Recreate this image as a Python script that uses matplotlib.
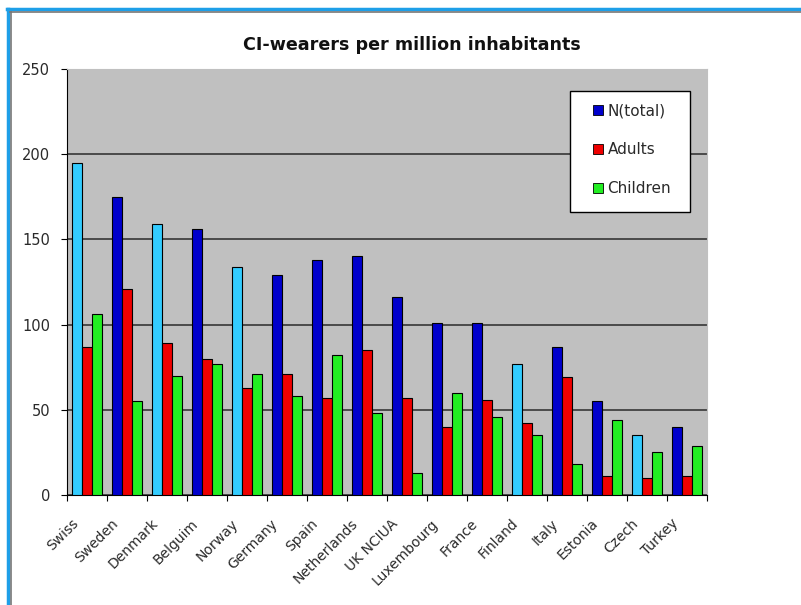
import numpy as np
import matplotlib.pyplot as plt
import matplotlib.transforms as mtransforms
from matplotlib.patches import Patch, Rectangle
from matplotlib.lines import Line2D

countries = ["Swiss", "Sweden", "Denmark", "Belguim", "Norway", "Germany", "Spain",
             "Netherlands", "UK NCIUA", "Luxembourg", "France", "Finland", "Italy",
             "Estonia", "Czech", "Turkey"]
total = [195, 175, 159, 156, 134, 129, 138, 140, 116, 101, 101, 77, 87, 55, 35, 40]
adults = [87, 121, 89, 80, 63, 71, 57, 85, 57, 40, 56, 42, 69, 11, 10, 11]
children = [106, 55, 70, 77, 71, 58, 82, 48, 13, 60, 46, 35, 18, 44, 25, 29]
# countries whose total bar is drawn light blue
light = ["Swiss", "Denmark", "Norway", "Finland", "Czech"]

dark_blue = "#0000CC"
light_blue = "#33CCFF"
red = "#EE0000"
green = "#22EE22"
text_col = "#2a2a2a"

plt.rcParams["font.family"] = "DejaVu Sans"

fig = plt.figure(figsize=(8.01, 6.05), dpi=100)
fig.patch.set_facecolor("white")
ax = fig.add_axes([0.0836, 0.1818, 0.799, 0.7041])
ax.set_facecolor("#C0C0C0")

x = np.arange(len(countries))
w = 0.25
total_colors = [light_blue if c in light else dark_blue for c in countries]
ax.bar(x - w, total, w, color=total_colors, edgecolor="black", linewidth=0.8, zorder=3)
ax.bar(x, adults, w, color=red, edgecolor="black", linewidth=0.8, zorder=3)
ax.bar(x + w, children, w, color=green, edgecolor="black", linewidth=0.8, zorder=3)

ax.set_xlim(-0.5, len(countries) - 0.5)
ax.set_ylim(0, 250)
ax.set_yticks([0, 50, 100, 150, 200, 250])
ax.yaxis.grid(True, color="#2a2a2a", linewidth=1.1, zorder=1)
ax.set_axisbelow(True)

# ticks at the category boundaries, labels at centres
ax.set_xticks(np.arange(len(countries) + 1) - 0.5)
ax.set_xticklabels([])
ax.set_xticks(x, minor=True)
ax.set_xticklabels(countries, minor=True, rotation=45, ha="right", va="center",
                   rotation_mode="anchor", fontsize=10, color=text_col)
ax.tick_params(axis="x", which="minor", length=0, pad=19)
ax.tick_params(axis="x", which="major", length=4, direction="out")
ax.tick_params(axis="y", length=4, direction="out", labelsize=10.5, pad=8,
               labelcolor=text_col)
shift = mtransforms.ScaledTranslation(-0.11, 0, fig.dpi_scale_trans)
for lab in ax.get_xticklabels(minor=True):
    lab.set_transform(lab.get_transform() + shift)

for s in ["top", "right"]:
    ax.spines[s].set_color("#C0C0C0")
ax.spines["left"].set_color("black")
ax.spines["bottom"].set_color("black")

ax.set_title("CI-wearers per million inhabitants", fontsize=12.6, fontweight="bold",
             color="#111111", pad=14, x=0.539)

# legend box drawn separately so the padding can match the original
ax.add_patch(Rectangle((0.786, 0.664), 0.1875, 0.284, transform=ax.transAxes,
                       facecolor="white", edgecolor="black", linewidth=1.0, zorder=5))
handles = [Patch(facecolor=dark_blue, edgecolor="black", linewidth=0.6),
           Patch(facecolor=red, edgecolor="black", linewidth=0.6),
           Patch(facecolor=green, edgecolor="black", linewidth=0.6)]
leg = ax.legend(handles, ["N(total)", "Adults", "Children"], loc="upper left",
                bbox_to_anchor=(0.822, 0.920), borderaxespad=0, frameon=False,
                borderpad=0, labelspacing=1.57, handlelength=0.65,
                handleheight=0.65, handletextpad=0.3, prop={"size": 11})
leg.set_zorder(6)
for t in leg.get_texts():
    t.set_color(text_col)

# outer frame of the screenshot
fig.add_artist(Line2D([0.009, 1.0], [0.985, 0.985], color="#1E9FE8", linewidth=2.5,
                      transform=fig.transFigure))
fig.add_artist(Line2D([0.010, 0.010], [0.0, 0.985], color="#1E9FE8", linewidth=2.5,
                      transform=fig.transFigure))
fig.add_artist(Line2D([0.013, 1.0], [0.980, 0.980], color="#777777", linewidth=1.2,
                      transform=fig.transFigure))
fig.add_artist(Line2D([0.0135, 0.0135], [0.0, 0.980], color="#777777", linewidth=1.2,
                      transform=fig.transFigure))

plt.savefig("out.png", dpi=100)
plt.close()
